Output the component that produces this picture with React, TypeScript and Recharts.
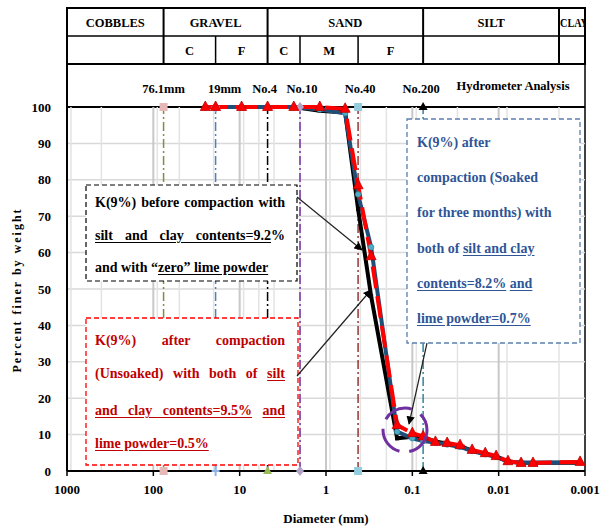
import React from "react"
import { ComposedChart, Line, XAxis, YAxis, CartesianGrid } from "recharts"

const FONT = "'Liberation Serif', Tinos, 'Times New Roman', serif"

// grain size (mm) of the sieve + hydrometer readings
const diameters = [25, 19, 9.5, 4.75, 2.36, 1.18, 0.6, 0.425, 0.3, 0.15, 0.1, 0.075, 0.054, 0.0395, 0.028, 0.0203, 0.0143, 0.0107, 0.0078, 0.0055, 0.004, 0.00114]
// percent finer by weight
const beforeCompaction = [100, 100, 100, 100, 100, 99, 98.5, 72, 48, 9.0, 9.4, 9.2, 8.1, 7.5, 6.8, 5.6, 4.7, 4.0, 2.6, 2.3, 2.3, 2.3]
const soaked = [100, 100, 100, 100, 100, 99.3, 98.3, 76, 61.5, 10.8, 9.0, 8.2, 7.8, 7.3, 6.6, 5.5, 4.6, 3.9, 2.6, 2.3, 2.3, 2.4]
const unsoaked = [100, 100, 100, 100, 100, 100, 99.5, 78.5, 59, 12.6, 10.4, 9.5, 8.0, 7.7, 7.1, 5.8, 4.9, 4.1, 2.7, 2.2, 2.2, 2.5]

// sieve reference lines
const sieveSizes = [76.1, 19, 4.75, 2, 0.425, 0.075]
const sieveNames = ["76.1mm", "19mm", "No.4", "No.10", "No.40", "No.200"]
const sieveColors = ["#77933c", "#4f81bd", "#000000", "#7030a0", "#953735", "#31859c"]
const sieveMarkers = ["square", "plus", "triangle", "diamond", "square", "triangle"]
const sieveMarkerFill = ["#e6b9b8", "#8eb4e3", "#9bbb59", "#b3a2c7", "#93cddd", "#000000"]
const sieveLabelShift = [0, 9, -3, 2, 2, -2]

// soil classification header
const mainBounds = [76.1, 4.75, 0.075, 0.002]
const mainNames = ["COBBLES", "GRAVEL", "SAND", "SILT", "CLAY"]
const subBounds = [19, 2, 0.425]
const subNames = [
  { name: "C", from: 76.1, to: 19 },
  { name: "F", from: 19, to: 4.75 },
  { name: "C", from: 4.75, to: 2 },
  { name: "M", from: 2, to: 0.425 },
  { name: "F", from: 0.425, to: 0.075 },
]

const xTicks = [1000, 100, 10, 1, 0.1, 0.01, 0.001]
const yTicks = [0, 10, 20, 30, 40, 50, 60, 70, 80, 90, 100]

const decades = [-3, -2, -1, 0, 1, 2]
const minorGrid = decades.flatMap((k) => [2, 3, 4, 5, 6, 7, 8, 9].map((m) => m * Math.pow(10, k)))
const majorGrid = [100, 10, 1, 0.1, 0.01]

const toRows = (ys: number[]) => diameters.map((d, i) => ({ d, p: ys[i] }))
const beforeData = toRows(beforeCompaction)
const soakedData = toRows(soaked)
const unsoakedData = toRows(unsoaked)

const PL = 67
const PR = 585
const PT = 107
const PB = 471
const xPx = (d: number) => PL + ((3 - Math.log10(d)) / 6) * (PR - PL)

const RedTri = (p: any) => {
  const { cx, cy, index } = p
  if (cx == null || cy == null) return <g key={`rt-${index}`} />
  return (
    <path
      key={`rt-${index}`}
      d={`M${cx},${cy - 6} L${cx + 5},${cy + 3.5} L${cx - 5},${cy + 3.5} Z`}
      fill="#ff0000"
      stroke="#c00000"
      strokeWidth={0.8}
    />
  )
}

const BlueDot = (p: any) => {
  const { cx, cy, index } = p
  if (cx == null || cy == null) return <g key={`bd-${index}`} />
  return <circle key={`bd-${index}`} cx={cx} cy={cy} r={2.8} fill="#4bacc6" stroke="#31859c" strokeWidth={0.6} />
}

const BlackDot = (p: any) => {
  const { cx, cy, index } = p
  if (cx == null || cy == null) return <g key={`kd-${index}`} />
  return <rect key={`kd-${index}`} x={cx - 2} y={cy - 2} width={4} height={4} fill="#000" />
}

function sieveMarker(kind: string, fill: string) {
  return (p: any) => {
    const { cx, cy, index } = p
    const key = `sm-${kind}-${index}`
    if (cx == null || cy == null) return <g key={key} />
    if (kind === "square")
      return <rect key={key} x={cx - 4} y={cy - 4} width={8} height={8} fill={fill} />
    if (kind === "diamond")
      return <path key={key} d={`M${cx},${cy - 5} L${cx + 4},${cy} L${cx},${cy + 5} L${cx - 4},${cy} Z`} fill={fill} />
    if (kind === "plus")
      return (
        <path key={key} d={`M${cx - 4},${cy} H${cx + 4} M${cx},${cy - 5} V${cy + 5}`} stroke={fill} strokeWidth={2} />
      )
    return <path key={key} d={`M${cx},${cy - 5} L${cx + 4.5},${cy + 3} L${cx - 4.5},${cy + 3} Z`} fill={fill} />
  }
}

const tickStyle = { fontFamily: FONT, fontWeight: 700, fontSize: 13, fill: "#000" }

const txt: React.CSSProperties = {
  position: "absolute",
  fontFamily: FONT,
  fontWeight: 700,
  fontSize: 14,
  lineHeight: "16px",
}
const U = ({ children }: { children: React.ReactNode }) => (
  <span style={{ textDecoration: "underline", textUnderlineOffset: 2 }}>{children}</span>
)

function Ln({ x, y, w, color, justify, children }: any) {
  return (
    <div
      style={{
        ...txt,
        left: x,
        top: y - 12,
        width: w,
        color,
        textAlign: justify ? "justify" : "left",
        textAlignLast: justify ? "justify" : "left",
      }}
    >
      {children}
    </div>
  )
}

export default function App() {
  return (
    <div style={{ position: "absolute", left: 0, top: 0, width: 603, height: 531, background: "#fff" }}>
      {/* header table + frame, behind the chart */}
      <svg width={603} height={531} style={{ position: "absolute", left: 0, top: 0 }}>
        <defs>
          <clipPath id="hdr">
            <rect x={PL} y={8} width={PR - PL} height={56} />
          </clipPath>
        </defs>
        <rect x={PL} y={8} width={PR - PL} height={56} fill="none" stroke="#000" strokeWidth={2} />
        <line x1={PL} x2={PR} y1={36} y2={36} stroke="#000" strokeWidth={1.5} />
        {mainBounds.map((b) => (
          <line key={`mb${b}`} x1={xPx(b)} x2={xPx(b)} y1={8} y2={64} stroke="#000" strokeWidth={2} />
        ))}
        {subBounds.map((b) => (
          <line key={`sb${b}`} x1={xPx(b)} x2={xPx(b)} y1={36} y2={64} stroke="#000" strokeWidth={1.5} />
        ))}
        <line x1={PL} x2={PL} y1={8} y2={PB} stroke="#000" strokeWidth={2} />
        <line x1={PR} x2={PR} y1={8} y2={PB} stroke="#000" strokeWidth={1.5} />
        <line x1={PL} x2={PR} y1={PT} y2={PT} stroke="#000" strokeWidth={2} />
        <g fontFamily={FONT} fontWeight={700} fontSize={12.5} fill="#000" clipPath="url(#hdr)">
          {mainNames.map((n, i) => {
            const a = i === 0 ? PL : xPx(mainBounds[i - 1])
            const b = i === mainNames.length - 1 ? PR : xPx(mainBounds[i])
            if (i === mainNames.length - 1)
              return (
                <text key={n} x={a + 1} y={27} textLength={28} lengthAdjust="spacingAndGlyphs">
                  {n}
                </text>
              )
            return (
              <text key={n} x={(a + b) / 2} y={27} textAnchor="middle">
                {n}
              </text>
            )
          })}
          {subNames.map((s, i) => (
            <text key={`s${i}`} x={(xPx(s.from) + xPx(s.to)) / 2} y={55} textAnchor="middle">
              {s.name}
            </text>
          ))}
        </g>
        <g fontFamily={FONT} fontWeight={700} fontSize={12.5} fill="#000">
          {sieveSizes.map((s, i) => (
            <text key={sieveNames[i]} x={xPx(s) + sieveLabelShift[i]} y={93} textAnchor="middle">
              {sieveNames[i]}
            </text>
          ))}
          <text x={513} y={90} textAnchor="middle">
            Hydrometer Analysis
          </text>
        </g>
        <text
          fontFamily={FONT}
          fontWeight={700}
          fontSize={12}
          letterSpacing={2}
          textAnchor="middle"
          transform="translate(21,290) rotate(-90)"
        >
          Percent finer by weight
        </text>
        <text fontFamily={FONT} fontWeight={700} fontSize={13} textAnchor="middle" x={326} y={523}>
          Diameter (mm)
        </text>
      </svg>

      <div style={{ position: "absolute", left: 0, top: 0 }}>
        <ComposedChart width={603} height={531} margin={{ top: PT, right: 603 - PR, bottom: 30, left: 17 }}>
          <CartesianGrid
            horizontal
            vertical={false}
            horizontalValues={[10, 20, 30, 40, 50, 60, 70, 80, 90]}
            stroke="#d9d9d9"
            strokeWidth={1.5}
          />
          <CartesianGrid horizontal={false} vertical verticalValues={minorGrid} stroke="#e3e3e3" strokeWidth={1.5} />
          <CartesianGrid horizontal={false} vertical verticalValues={majorGrid} stroke="#c8c8c8" strokeWidth={2} />
          <XAxis
            dataKey="d"
            type="number"
            scale="log"
            domain={[0.001, 1000]}
            reversed
            ticks={xTicks}
            tickFormatter={(v: number) => String(v)}
            tick={tickStyle}
            axisLine={{ stroke: "#000", strokeWidth: 2 }}
            tickLine={{ stroke: "#000", strokeWidth: 1.5 }}
            tickSize={5}
            tickMargin={9}
            height={30}
            allowDataOverflow
          />
          <YAxis
            type="number"
            domain={[0, 100]}
            ticks={yTicks}
            tick={tickStyle}
            axisLine={{ stroke: "#000", strokeWidth: 2 }}
            tickLine={false}
            tickMargin={10}
            width={50}
          />
          {sieveSizes.map((s, i) => (
            <Line
              key={sieveNames[i]}
              data={[
                { d: s, p: 0 },
                { d: s, p: 100 },
              ]}
              dataKey="p"
              stroke={sieveColors[i]}
              strokeWidth={1.5}
              strokeDasharray="9 3 2 3"
              dot={sieveMarker(sieveMarkers[i], sieveMarkerFill[i])}
              activeDot={false}
              isAnimationActive={false}
            />
          ))}
          <Line
            data={beforeData}
            dataKey="p"
            stroke="#000"
            strokeWidth={4}
            dot={BlackDot}
            activeDot={false}
            isAnimationActive={false}
          />
          <Line
            data={soakedData}
            dataKey="p"
            stroke="#1f4e79"
            strokeWidth={4}
            dot={BlueDot}
            activeDot={false}
            isAnimationActive={false}
          />
          <Line
            data={unsoakedData}
            dataKey="p"
            stroke="#ff0000"
            strokeWidth={4}
            strokeDasharray="22 8"
            dot={RedTri}
            activeDot={false}
            isAnimationActive={false}
          />
        </ComposedChart>
      </div>

      {/* annotations on top */}
      <svg width={603} height={531} style={{ position: "absolute", left: 0, top: 0, pointerEvents: "none" }}>
        <defs>
          <marker id="ah" viewBox="0 0 10 10" refX="9" refY="5" markerWidth="7" markerHeight="7" orient="auto">
            <path d="M0,0 L10,5 L0,10 Z" fill="#000" />
          </marker>
        </defs>
        <rect x={86} y={185} width={211} height={96} fill="#fff" stroke="#000" strokeWidth={1.2} strokeDasharray="5 3" />
        <rect x={86} y={318} width={212} height={147} fill="#fff" stroke="#ff0000" strokeWidth={1.3} strokeDasharray="5 3" />
        <rect x={407} y={119} width={173} height={224} fill="#fff" stroke="#5a7fb0" strokeWidth={1.3} strokeDasharray="5 3" />
        <line x1={297} y1={197} x2={362} y2={250} stroke="#222" strokeWidth={1.2} markerEnd="url(#ah)" />
        <line x1={297} y1={376} x2={371} y2={290} stroke="#222" strokeWidth={1.2} markerEnd="url(#ah)" />
        <line x1={427} y1={343} x2={409} y2={424} stroke="#222" strokeWidth={1.2} markerEnd="url(#ah)" />
        <circle cx={405} cy={430} r={22} fill="none" stroke="#7030a0" strokeWidth={3} strokeDasharray="30 10" />
      </svg>

      <Ln x={95} y={207} w={190} color="#000" justify>
        K(9%) before compaction with
      </Ln>
      <Ln x={95} y={240} w={190} color="#000" justify>
        <U>silt and clay contents=9.2</U>%
      </Ln>
      <Ln x={95} y={272} w={190} color="#000">
        and with “<U>zero” lime powder</U>
      </Ln>

      <Ln x={95} y={345} w={190} color="#c00000" justify>
        K(9%) after compaction
      </Ln>
      <Ln x={95} y={378} w={190} color="#c00000" justify>
        (Unsoaked) with both of <U>silt</U>
      </Ln>
      <Ln x={95} y={415} w={190} color="#c00000" justify>
        <U>and clay contents=9.5%</U> <U>and</U>
      </Ln>
      <Ln x={95} y={448} w={190} color="#c00000">
        <U>lime powder=0.5%</U>
      </Ln>

      <Ln x={417} y={147} w={160} color="#2f5597">
        K(9%) after
      </Ln>
      <Ln x={417} y={182} w={160} color="#2f5597">
        compaction (Soaked
      </Ln>
      <Ln x={417} y={217} w={160} color="#2f5597">
        for three months) with
      </Ln>
      <Ln x={417} y={253} w={160} color="#2f5597">
        both of <U>silt and clay</U>
      </Ln>
      <Ln x={417} y={288} w={160} color="#2f5597">
        <U>contents=8.2%</U> <U>and</U>
      </Ln>
      <Ln x={417} y={323} w={160} color="#2f5597">
        <U>lime powder=0.7%</U>
      </Ln>
    </div>
  )
}
